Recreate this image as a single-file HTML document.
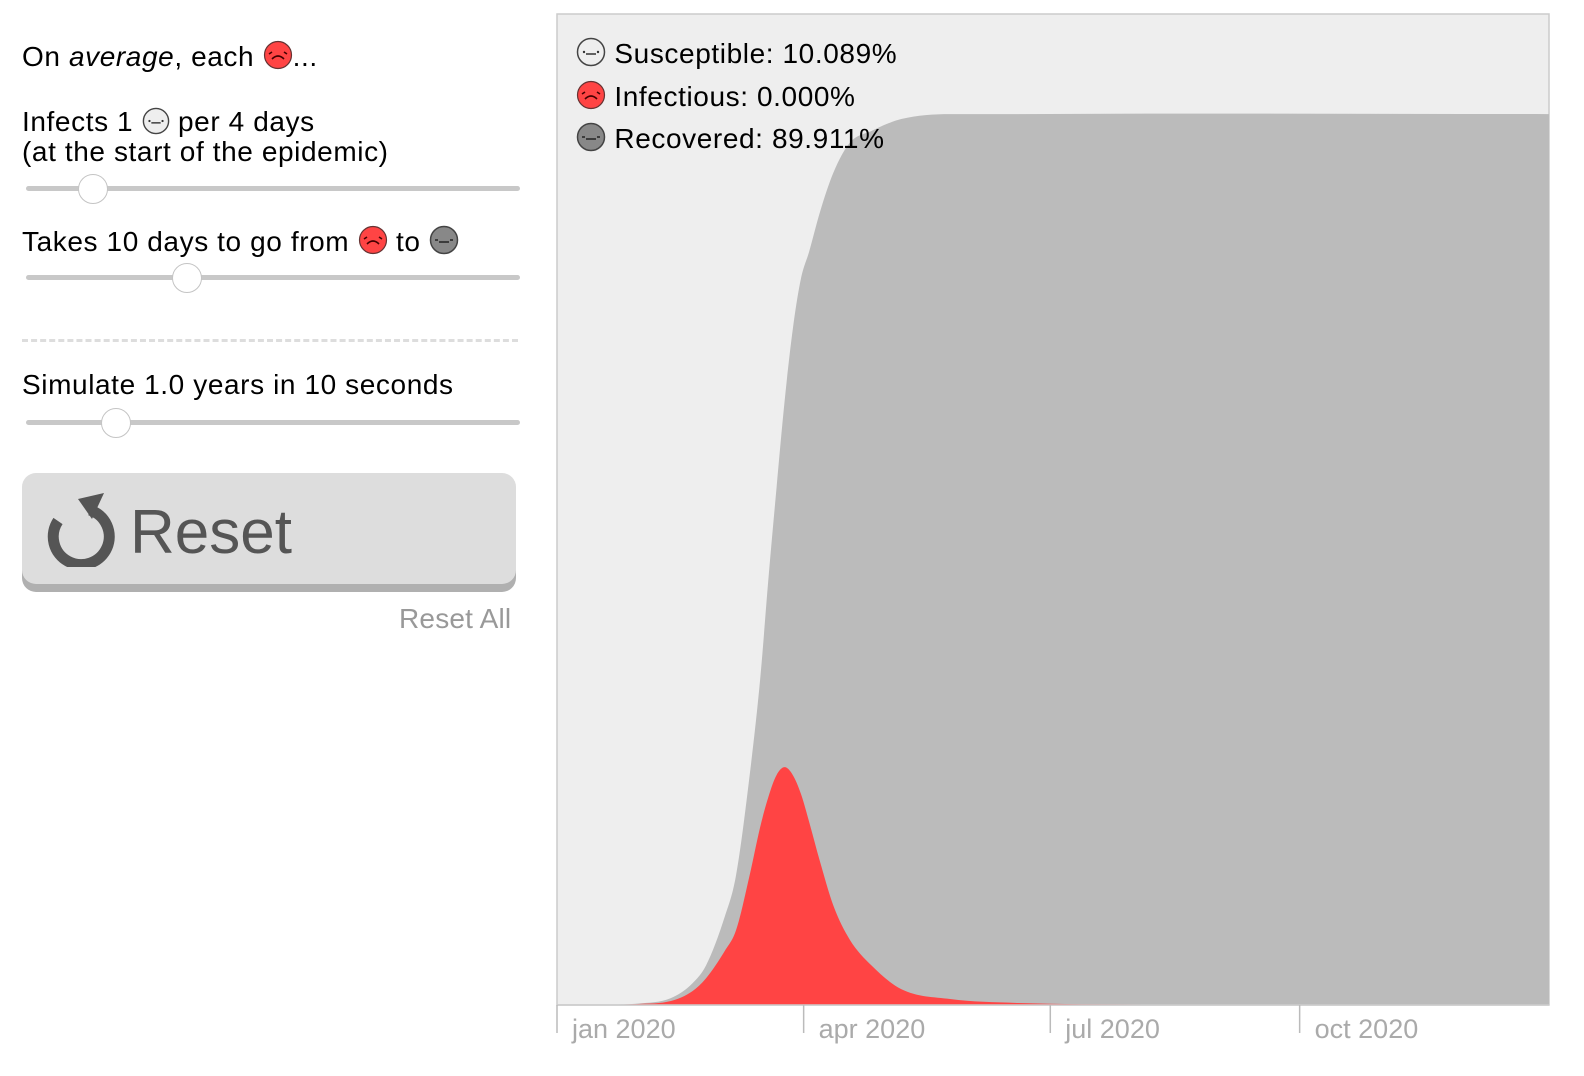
<!DOCTYPE html>
<html><head><meta charset="utf-8"><style>
body{margin:0;width:1584px;height:1076px;background:#fff;font-family:"Liberation Sans",sans-serif;position:relative;overflow:hidden}
.t{position:absolute;font-size:28px;letter-spacing:0.6px;color:#000;white-space:nowrap;line-height:30px}
.track{position:absolute;left:26px;width:494px;height:5px;background:#c8c8c8;border-radius:3px}
.thumb{position:absolute;width:30px;height:30px;border-radius:50%;background:#fff;border:1px solid #c4c4c4;box-sizing:border-box}
.face{display:inline-block;vertical-align:-4px}
</style></head><body>
<svg width="0" height="0" style="position:absolute"><defs>
<symbol id="fS" viewBox="0 0 30 30"><circle cx="15" cy="15" r="13.5" fill="#eee" stroke="#444" stroke-width="1.5"/><circle cx="8" cy="15" r="1.2" fill="#333"/><circle cx="22" cy="15" r="1.2" fill="#333"/><line x1="10" y1="17" x2="20" y2="17" stroke="#333" stroke-width="1.5"/></symbol>
<symbol id="fI" viewBox="0 0 30 30"><circle cx="15" cy="15" r="13.5" fill="#f44" stroke="#633" stroke-width="1.2"/><path d="M6 14l3-2M24 14l-3-2M9 19q6-6 12 0" fill="none" stroke="#400" stroke-width="1.6"/></symbol>
<symbol id="fR" viewBox="0 0 30 30"><circle cx="15" cy="15" r="13.5" fill="#888" stroke="#444" stroke-width="1.5"/><line x1="6" y1="15" x2="9" y2="15" stroke="#222" stroke-width="1.5"/><line x1="21" y1="15" x2="24" y2="15" stroke="#222" stroke-width="1.5"/><line x1="10" y1="17" x2="20" y2="17" stroke="#222" stroke-width="1.5"/></symbol>
</defs></svg>

<div class="t" style="left:22px;top:40px">On <i>average</i>, each <svg class="face" width="30" height="30"><use href="#fI"/></svg>...</div>
<div class="t" style="left:22px;top:107px">Infects 1 <svg class="face" width="28" height="28"><use href="#fS"/></svg> per 4 days<br>(at the start of the epidemic)</div>
<div class="track" style="top:186px"></div>
<div class="thumb" style="left:78px;top:174px"></div>
<div class="t" style="left:22px;top:225px">Takes 10 days to go from <svg class="face" width="30" height="30"><use href="#fI"/></svg> to <svg class="face" width="30" height="30"><use href="#fR"/></svg></div>
<div class="track" style="top:275px"></div>
<div class="thumb" style="left:172px;top:263px"></div>
<div style="position:absolute;left:22px;top:339px;width:496px;border-top:3px dashed #ddd"></div>
<div class="t" style="left:22px;top:370px">Simulate 1.0 years in 10 seconds</div>
<div class="track" style="top:420px"></div>
<div class="thumb" style="left:101px;top:408px"></div>
<div style="position:absolute;left:22px;top:473px;width:494px;height:111px;background:#ddd;border-radius:14px;box-shadow:0 8px 0 #b0b0b0">
<svg width="74" height="76" style="position:absolute;left:20px;top:18px" viewBox="0 0 74 76"><path d="M16 30 A28 28 0 1 0 48 19" fill="none" stroke="#555" stroke-width="11"/><path d="M36 8 L62 2 L50 28 Z" fill="#555"/></svg>
<div style="position:absolute;left:108px;top:24px;font-size:62px;color:#555">Reset</div>
</div>
<div class="t" style="left:399px;top:604px;color:#999;letter-spacing:0.2px">Reset All</div>

<svg id="chart" width="1584" height="1076" style="position:absolute;left:0;top:0"></svg>
<div class="t" style="left:576px;top:37px"><svg class="face" width="30" height="30"><use href="#fS"/></svg> Susceptible: 10.089%</div>
<div class="t" style="left:576px;top:80px"><svg class="face" width="30" height="30"><use href="#fI"/></svg> Infectious: 0.000%</div>
<div class="t" style="left:576px;top:122px"><svg class="face" width="30" height="30"><use href="#fR"/></svg> Recovered: 89.911%</div>

<script>
const days = [0,20,30,42,50,55,62,66,71,75,78,81,84,87,90,93,97,102,108,116,127,145,170,220,366];
const infectious = [0,0.0003,0.001,0.004,0.014,0.027,0.055,0.075,0.13,0.18,0.21,0.232,0.24,0.232,0.213,0.185,0.145,0.10,0.066,0.04,0.016,0.006,0.002,0.0005,0];
const recovered = [0,0.0001,0.0005,0.003,0.008,0.013,0.035,0.055,0.10,0.15,0.22,0.29,0.37,0.45,0.52,0.575,0.655,0.74,0.804,0.842,0.878,0.893,0.897,0.899,0.899];
const tickMonths = ["jan 2020","apr 2020","jul 2020","oct 2020"];
const tickDays = [0,91,182,274];

const NS="http://www.w3.org/2000/svg";
const svg=document.getElementById('chart');
const X0=557,X1=1549,Y0=14,Y1=1005,D=366;
const xs=d=>X0+d/D*(X1-X0);
const ys=v=>Y1-v*(Y1-Y0);
function el(t,a){const e=document.createElementNS(NS,t);for(const k in a)e.setAttribute(k,a[k]);svg.appendChild(e);return e;}
function smooth(vals){
  const n=days.length,x=days.map(xs),y=vals.map(ys);
  const dl=[],m=[];
  for(let i=0;i<n-1;i++)dl.push((y[i+1]-y[i])/(x[i+1]-x[i]));
  for(let i=0;i<n;i++){
    if(i==0)m.push(dl[0]);else if(i==n-1)m.push(dl[n-2]);
    else m.push(dl[i-1]*dl[i]<=0?0:(dl[i-1]+dl[i])/2);
  }
  for(let i=0;i<n-1;i++){
    if(dl[i]==0){m[i]=0;m[i+1]=0;continue;}
    const a=m[i]/dl[i],b=m[i+1]/dl[i],s=a*a+b*b;
    if(s>9){const t=3/Math.sqrt(s);m[i]=t*a*dl[i];m[i+1]=t*b*dl[i];}
  }
  let d=`M${x[0]},${y[0]}`;
  for(let i=0;i<n-1;i++){const h=(x[i+1]-x[i])/3;
    d+=` C${x[i]+h},${y[i]+m[i]*h} ${x[i+1]-h},${y[i+1]-m[i+1]*h} ${x[i+1]},${y[i+1]}`;}
  return d+` L${x[n-1]},${Y1} L${X0},${Y1} Z`;
}
const bg=el('rect',{x:X0,y:Y0,width:X1-X0,height:Y1-Y0,fill:'#eee',stroke:'#ccc','stroke-width':1.5});


const total=infectious.map((v,i)=>v+recovered[i]);
const rArea=el('path',{d:smooth(total),fill:'#bbb'});


const iArea=el('path',{d:smooth(infectious),fill:'#f44'});


const ax=el('line',{x1:X0,x2:X1,y1:Y1,y2:Y1,stroke:'#ccc','stroke-width':1.5});


tickDays.forEach((d,i)=>{
  const tk=el('line',{x1:xs(d),x2:xs(d),y1:Y1,y2:Y1+28,stroke:'#bbb','stroke-width':1.5});
  
  
  const tx=el('text',{x:xs(d)+15,y:Y1+33,fill:'#aaa','font-size':27,'font-family':'Liberation Sans, sans-serif'});
  tx.textContent=tickMonths[i];
  
  
});
</script>
</body></html>
